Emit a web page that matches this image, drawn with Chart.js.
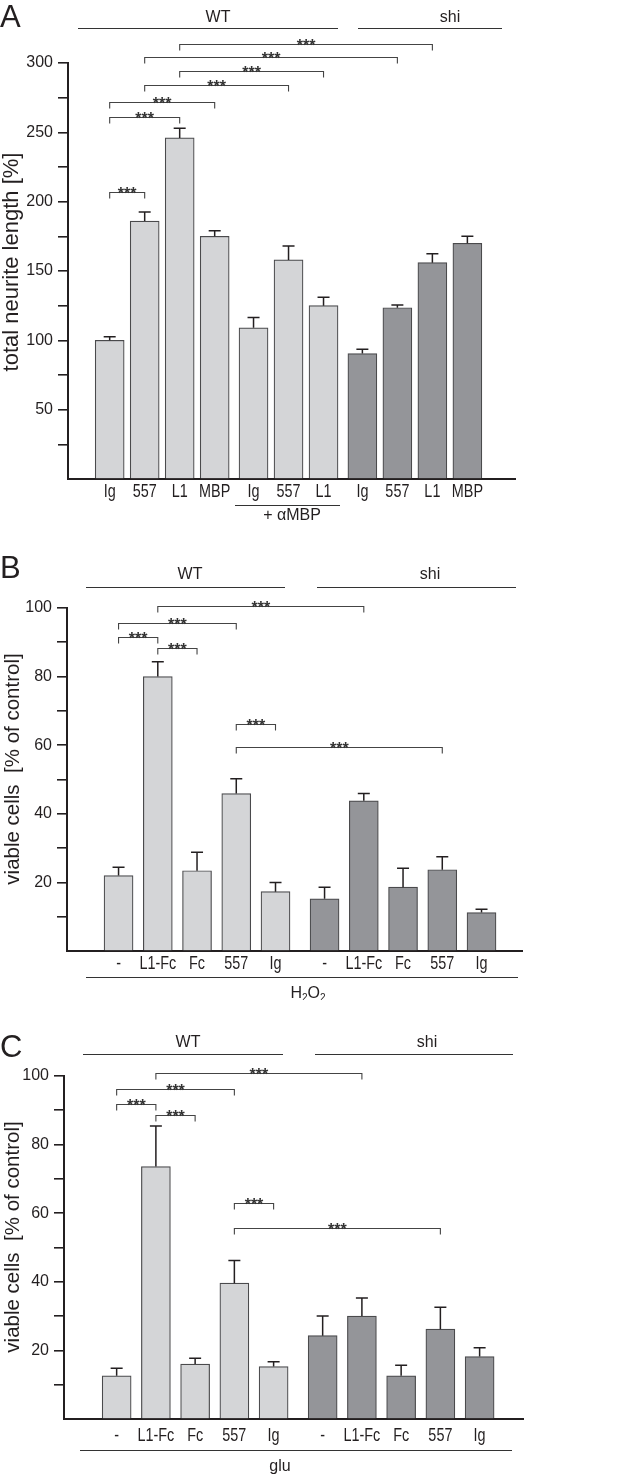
<!DOCTYPE html>
<html>
<head>
<meta charset="utf-8">
<script src="https://cdn.jsdelivr.net/npm/chart.js@4.4.0/dist/chart.umd.min.js"></script>
<style>
html,body{margin:0;padding:0;background:#fff;}
#wrap{position:relative;width:633px;height:1476px;}
.panel{position:absolute;left:0;width:633px;}
</style>
</head>
<body>
<div id="wrap">
  <div class="panel" style="top:0;height:530px"><canvas id="chartA"></canvas></div>
  <div class="panel" style="top:530px;height:470px"><canvas id="chartB"></canvas></div>
  <div class="panel" style="top:1000px;height:476px"><canvas id="chartC"></canvas></div>
</div>
<script>
// --- panel A: neurite length ---
const labelsA = ['Ig','557','L1','MBP','Ig','557','L1','Ig','557','L1','MBP'];
const groupsA = [4,3,4];
const meanA = [100,186,246,175,109,158,125,90.5,123.5,156,170];
const semA  = [2.5,6.5,7,4,7.5,10,6,3,2,6.5,5];
const strainA = ['wt','wt','wt','wt','wt','wt','wt','shi','shi','shi','shi'];
// [from bar, to bar, bracket height in y units]
const sigA = [[0,1,207],[0,2,261],[0,3,272],[1,5,284],[2,6,294],[1,8,304],[2,9,314]];

// --- panel B: H2O2 ---
const labelsB = ['-','L1-Fc','Fc','557','Ig','-','L1-Fc','Fc','557','Ig'];
const groupsB = [5,5];
const meanB = [22,80,23.4,45.9,17.3,15.2,43.8,18.6,23.7,11.2];
const semB  = [2.4,4.3,5.4,4.3,2.7,3.4,2.1,5.5,3.8,1.0];
const strainB = ['wt','wt','wt','wt','wt','shi','shi','shi','shi','shi'];
const sigB = [[1,6,100.6],[0,3,95.6],[0,1,91.5],[1,2,88.3],[3,4,66.2],[3,8,59.5]];

// --- panel C: glutamate ---
const labelsC = ['-','L1-Fc','Fc','557','Ig','-','L1-Fc','Fc','557','Ig'];
const groupsC = [5,5];
const meanC = [12.6,73.6,16.0,39.6,15.3,24.3,30.0,12.6,26.2,18.2];
const semC  = [2.2,11.8,1.7,6.6,1.4,5.7,5.3,3.1,6.4,2.6];
const strainC = ['wt','wt','wt','wt','wt','shi','shi','shi','shi','shi'];
const sigC = [[1,6,100.9],[0,3,96.2],[0,1,91.8],[1,2,88.6],[3,4,63.0],[3,8,55.7]];

const INK = '#231f20';
const FILL = {wt:'#d4d5d7', shi:'#949599'};
const SANS = '"Liberation Sans", Arial, Helvetica, sans-serif';

function positions(sizes, gap){
  const out=[]; let x=0;
  sizes.forEach(n=>{ for(let k=0;k<n;k++){ out.push(x); x++; } x+=gap; });
  return out;
}

function makePanel(id, d, L){
  const xs = positions(d.groups, L.gap);
  const xmin = -(L.first - L.left)/L.unit;
  const xmax = xmin + (L.right - L.left)/L.unit;

  const extras = {
    id:'extras_'+id,
    afterDatasetsDraw(chart){
      const {ctx, scales:{x, y}} = chart;
      const meta = chart.getDatasetMeta(0);
      ctx.save();
      ctx.strokeStyle = INK; ctx.lineWidth = 1.5;
      meta.data.forEach((bar,i)=>{
        const top = y.getPixelForValue(d.mean[i] + d.err[i]);
        ctx.beginPath();
        ctx.moveTo(bar.x, bar.y); ctx.lineTo(bar.x, top);
        ctx.moveTo(bar.x-6, top); ctx.lineTo(bar.x+6, top);
        ctx.stroke();
      });
      ctx.restore();
    },
    afterDraw(chart){
      const {ctx, scales:{x, y}} = chart;
      ctx.save();
      // category labels, set slightly condensed like the figure's font
      ctx.fillStyle = INK; ctx.font = '18px '+SANS;
      ctx.textAlign = 'center'; ctx.textBaseline = 'middle';
      d.labels.forEach((t,i)=>{
        ctx.save();
        ctx.translate(x.getPixelForValue(xs[i]), chart.chartArea.bottom + L.labelDy);
        ctx.scale(0.8, 1);
        ctx.fillText(t, 0, 0);
        ctx.restore();
      });
      // significance brackets
      ctx.strokeStyle = '#444'; ctx.lineWidth = 1.1;
      ctx.fillStyle = '#333'; ctx.font = 'bold 16px '+SANS;
      ctx.textAlign = 'center'; ctx.textBaseline = 'alphabetic';
      d.sig.forEach(([a,b,v])=>{
        const xa = x.getPixelForValue(xs[a]), xb = x.getPixelForValue(xs[b]);
        const yy = Math.round(y.getPixelForValue(v)) + 0.5;
        ctx.beginPath();
        ctx.moveTo(xa, yy+6); ctx.lineTo(xa, yy); ctx.lineTo(xb, yy); ctx.lineTo(xb, yy+6);
        ctx.stroke();
        ctx.fillText('***', (xa+xb)/2, yy+6);
      });
      // y axis title
      ctx.fillStyle = INK;
      ctx.save();
      ctx.translate(L.titleX, L.titleY);
      ctx.rotate(-Math.PI/2);
      ctx.font = L.titleSize+'px '+SANS;
      ctx.textAlign = 'center'; ctx.textBaseline = 'middle';
      ctx.fillText(d.yTitle, 0, 0);
      ctx.restore();
      // strain headers
      ctx.font = '16px '+SANS;
      ctx.textAlign = 'center'; ctx.textBaseline = 'middle';
      ctx.strokeStyle = '#333'; ctx.lineWidth = 1;
      L.headers.forEach(h=>{
        ctx.fillText(h.text, h.cx, h.ty);
        ctx.beginPath(); ctx.moveTo(h.x1, L.hy+0.5); ctx.lineTo(h.x2, L.hy+0.5); ctx.stroke();
      });
      // treatment label under the axis
      const u = L.under;
      ctx.beginPath(); ctx.moveTo(u.x1, u.ly+0.5); ctx.lineTo(u.x2, u.ly+0.5); ctx.stroke();
      ctx.font = '16px '+SANS;
      if(u.parts){
        let w = 0;
        u.parts.forEach(p=>{ ctx.font = (p.sub?'10px ':'16px ')+SANS; w += ctx.measureText(p.t).width; });
        let cx = u.tx - w/2;
        ctx.textAlign = 'left'; ctx.textBaseline = 'alphabetic';
        u.parts.forEach(p=>{
          ctx.font = (p.sub?'10px ':'16px ')+SANS;
          ctx.fillText(p.t, cx, u.ty + 6 + (p.sub?3:0));
          cx += ctx.measureText(p.t).width;
        });
      } else {
        ctx.textAlign = 'center';
        ctx.fillText(u.text, u.tx, u.ty);
      }
      // panel letter
      ctx.textAlign = 'left'; ctx.textBaseline = 'alphabetic';
      ctx.font = '31px '+SANS;
      ctx.fillText(L.letter, 0, L.letterY);
      ctx.restore();
    }
  };

  return new Chart(document.getElementById(id), {
    type:'bar',
    data:{
      datasets:[{
        data: xs.map((v,i)=>({x:v, y:d.mean[i]})),
        backgroundColor: d.strain.map(s=>FILL[s]),
        borderColor:'#4a4a4c', borderWidth:1.2,
        barThickness:29
      }]
    },
    options:{
      responsive:true, maintainAspectRatio:false, animation:false,
      layout:{padding:{top:L.top, left:0, right:633-L.right, bottom:0}},
      plugins:{legend:{display:false}, tooltip:{enabled:false}},
      scales:{
        x:{
          type:'linear', min:xmin, max:xmax,
          afterBuildTicks: s=>{ s.ticks = xs.map(v=>({value:v})); },
          afterFit: s=>{ s.height = L.h - L.bottom; },
          grid:{display:false, drawTicks:false},
          border:{display:true, color:INK, width:2},
          ticks:{display:false}
        },
        y:{
          min:0, max:d.yMax,
          afterFit: s=>{ s.width = L.left; },
          border:{display:true, color:INK, width:2},
          grid:{display:true, drawOnChartArea:false, drawTicks:true, tickLength:10,
                lineWidth:1.6, tickColor: c=>(c.tick && c.tick.value===0) ? 'rgba(0,0,0,0)' : INK},
          ticks:{stepSize:d.yStep, autoSkip:false, padding:5, color:INK,
                 font:{family:SANS, size:16},
                 callback:v=>(v>0 && v % d.yEvery === 0) ? v : ''},
          title:{display:false}
        }
      }
    },
    plugins:[extras]
  });
}

makePanel('chartA',
  {labels:labelsA, groups:groupsA, mean:meanA, err:semA, strain:strainA, sig:sigA,
   yMax:300, yStep:25, yEvery:50, yTitle:'total neurite length [%]'},
  {h:530, top:63, bottom:479, left:68, right:515, first:91.5, unit:38.5, gap:0.11, labelDy:13,
   hy:28, letter:'A', letterY:27, titleX:12, titleY:262, titleSize:22,
   headers:[{text:'WT', cx:218, ty:18, x1:78, x2:338},{text:'shi', cx:450, ty:18, x1:358, x2:502}],
   under:{x1:235, x2:340, ly:505, text:'+ \u03b1MBP', tx:292, ty:516}});

makePanel('chartB',
  {labels:labelsB, groups:groupsB, mean:meanB, err:semB, strain:strainB, sig:sigB,
   yMax:100, yStep:10, yEvery:20, yTitle:'viable cells  [% of control]'},
  {h:470, top:78, bottom:421, left:67, right:522, first:99, unit:43.6, gap:0.25, labelDy:13,
   hy:57, letter:'B', letterY:48, titleX:13, titleY:239, titleSize:20.5,
   headers:[{text:'WT', cx:190, ty:45, x1:86, x2:285},{text:'shi', cx:430, ty:45, x1:317, x2:516}],
   under:{x1:86, x2:518, ly:447, tx:308, ty:462,
          parts:[{t:'H'},{t:'2',sub:true},{t:'O'},{t:'2',sub:true}]}});

makePanel('chartC',
  {labels:labelsC, groups:groupsC, mean:meanC, err:semC, strain:strainC, sig:sigC,
   yMax:100, yStep:10, yEvery:20, yTitle:'viable cells  [% of control]'},
  {h:476, top:76, bottom:419, left:64, right:523, first:97, unit:43.6, gap:0.25, labelDy:17,
   hy:54, letter:'C', letterY:57, titleX:13, titleY:237, titleSize:20.5,
   headers:[{text:'WT', cx:188, ty:43, x1:83, x2:283},{text:'shi', cx:427, ty:43, x1:315, x2:513}],
   under:{x1:80, x2:512, ly:450, text:'glu', tx:280, ty:467}});
</script>
</body>
</html>
